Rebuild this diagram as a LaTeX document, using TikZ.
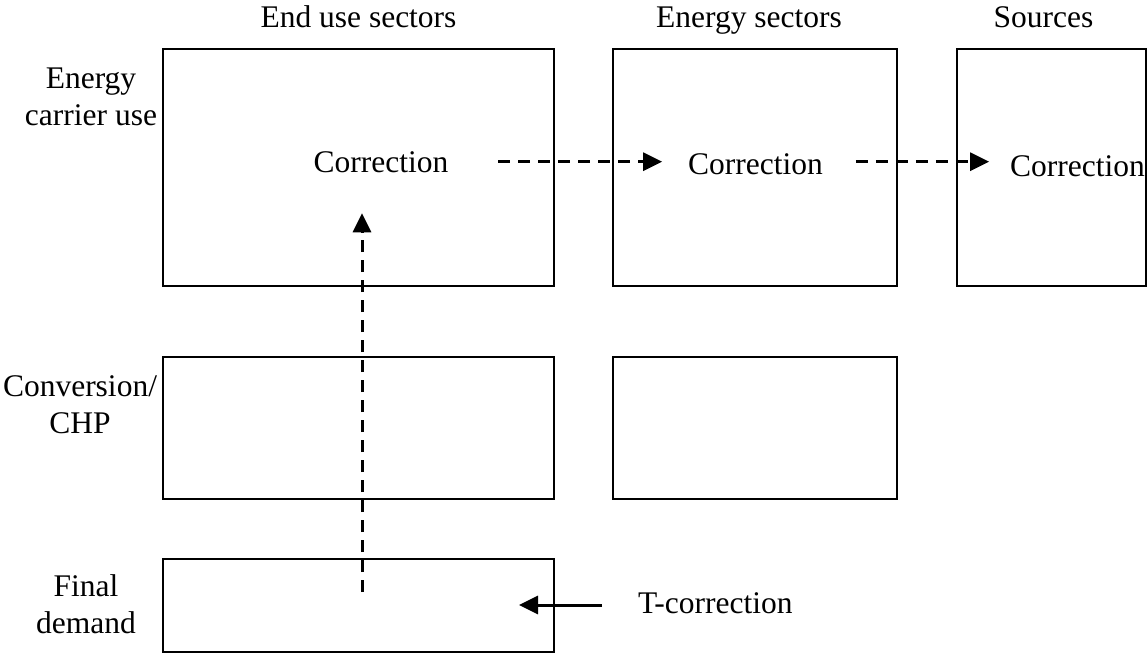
\documentclass[tikz,border=0pt]{standalone}
\usepackage{fontspec}
\setmainfont{Liberation Serif}
\usetikzlibrary{arrows.meta}
\begin{document}
\begin{tikzpicture}[x=1pt,y=-1pt,
  every node/.style={font=\fontsize{31.5}{37}\selectfont, inner sep=0pt, outer sep=0pt},
  panel/.style={draw, line width=2.2pt, inner sep=0pt},
  lbl/.style={anchor=base, align=center},
  flow/.style={line width=3pt, dash pattern=on 12pt off 8pt,
               -{Triangle[length=19pt,width=18pt]}},
  push/.style={line width=3pt, -{Triangle[length=19pt,width=18pt]}}]
\useasboundingbox (0,0) rectangle (1147,654);

% column headings
\node[lbl] (h1) at (358.5,27) {End use sectors};
\node[lbl] (h2) at (749,27) {Energy sectors};
\node[lbl] (h3) at (1043.5,27) {Sources};

% row labels (base anchor sits on the last line)
\node[lbl] (r1) at (91,125) {Energy\\carrier use};
\node[lbl] (r2) at (80,433) {Conversion/\\CHP};
\node[lbl] (r3) at (86,633) {Final\\demand};

% panels
\node[panel, minimum width=391pt, minimum height=237pt] (b1) at (358.5,167.5) {};
\node[panel, minimum width=284pt, minimum height=237pt] (b2) at (755,167.5) {};
\node[panel, minimum width=189pt, minimum height=237pt] (b3) at (1051.5,167.5) {};
\node[panel, minimum width=391pt, minimum height=142pt] (b4) at (358.5,428) {};
\node[panel, minimum width=284pt, minimum height=142pt] (b5) at (755,428) {};
\node[panel, minimum width=391pt, minimum height=93pt] (b6) at (358.5,605.5) {};

% correction steps
\node[lbl] (c1) at (381,172) {Correction};
\node[lbl] (c2) at (755.5,174) {Correction};
\node[lbl] (c3) at (1077.5,176) {Correction};
\node[anchor=base west] (tc) at (638,613) {T-correction};

% connectors
\coordinate (src) at (362,592);
\draw[flow] (src) -- ([yshift=-41pt]src |- c1.south);
\draw[flow] ([xshift=50pt]c1.east) -- ([xshift=-26pt]c1.east -| c2.west);
\draw[flow] ([xshift=33pt]c2.east |- c1.east) -- ([xshift=-21pt]c1.east -| c3.west);
\draw[push] ([xshift=-36pt]tc.west |- 0,605) -- ([xshift=-35pt]b6.east |- 0,605);
\end{tikzpicture}
\end{document}
